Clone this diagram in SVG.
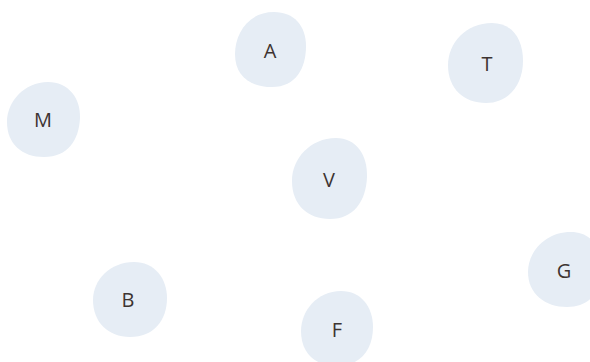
<svg xmlns="http://www.w3.org/2000/svg" width="590" height="362" viewBox="0 0 590 362">
<style>
.blob{fill:#e6edf5;stroke:none}
.lbl{font-family:"Open Sans","Noto Sans",sans-serif;font-size:20px;fill:#3d3431;text-anchor:middle}
</style>
<rect width="590" height="362" fill="#ffffff"/>
<g id="connectors"></g>
<g id="node-A">
<path class="blob" transform="translate(270,50)" d="M 4,-38 C 24,-38 36,-24 36,-4 C 36,18 26,37 2,37 C -20,37 -35,26 -35,4 C -35,-16 -22,-38 4,-38 Z"/>
<text class="lbl" x="270" y="58">A</text>
</g>
<g id="node-T">
<path class="blob" transform="translate(486,63)" d="M 6,-40 C 26,-40 37,-24 37,-2 C 37,20 24,40 0,40 C -22,40 -38,26 -38,2 C -38,-20 -20,-40 6,-40 Z"/>
<text class="lbl" x="487" y="71">T</text>
</g>
<g id="node-M">
<path class="blob" transform="translate(44,120)" d="M 4,-38 C 24,-38 37,-22 36,-2 C 35,20 24,37 0,37 C -22,37 -37,24 -37,2 C -37,-18 -20,-38 4,-38 Z"/>
<text class="lbl" x="43" y="127">M</text>
</g>
<g id="node-V">
<path class="blob" transform="translate(330,179)" d="M 6,-41 C 26,-41 38,-24 37,-2 C 36,22 24,40 0,40 C -22,40 -38,26 -38,2 C -38,-20 -20,-41 6,-41 Z"/>
<text class="lbl" x="329" y="187">V</text>
</g>
<g id="node-G">
<path class="blob" transform="translate(565,270)" d="M 6,-38 C 26,-38 37,-22 37,-2 C 37,20 26,37 2,37 C -20,37 -37,24 -37,2 C -37,-18 -20,-38 6,-38 Z"/>
<text class="lbl" x="564" y="278">G</text>
</g>
<g id="node-B">
<path class="blob" transform="translate(130,300)" d="M 4,-38 C 24,-38 37,-22 37,-2 C 37,20 24,37 0,37 C -22,37 -37,22 -37,0 C -37,-20 -20,-38 4,-38 Z"/>
<text class="lbl" x="128" y="307">B</text>
</g>
<g id="node-F">
<path class="blob" transform="translate(337,329)" d="M 4,-38 C 24,-38 36,-22 36,-2 C 36,20 24,37 0,37 C -22,37 -36,24 -36,2 C -36,-18 -20,-38 4,-38 Z"/>
<text class="lbl" x="337" y="337">F</text>
</g>
</svg>
